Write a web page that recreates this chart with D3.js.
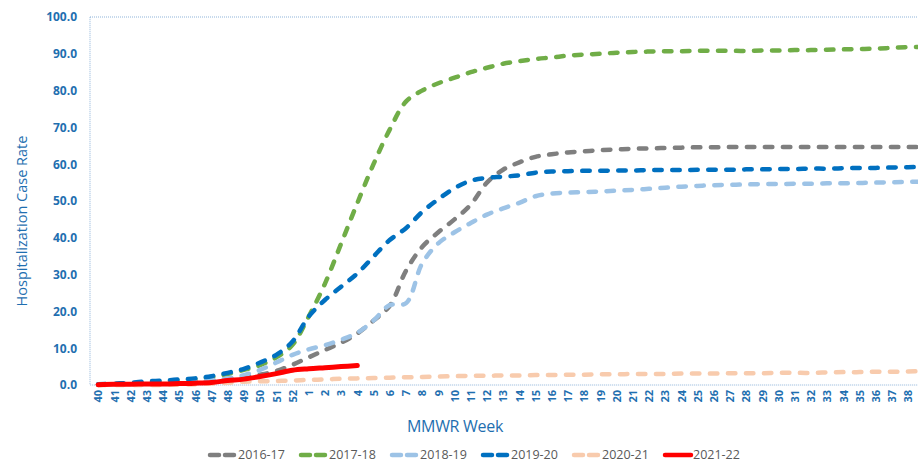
<!DOCTYPE html>
<html>
<head>
<meta charset="utf-8">
<script src="https://cdn.jsdelivr.net/npm/d3@7"></script>
<style>
  body { margin: 0; background: #fff; }
  svg { display: block; font-family: "Open Sans", sans-serif; }
</style>
</head>
<body>
<div id="chart"></div>
<script>
// MMWR weeks on the x axis (week 39 sits just past the right edge)
var weeks = ["40","41","42","43","44","45","46","47","48","49","50","51","52",
  "1","2","3","4","5","6","7","8","9","10","11","12","13","14","15","16","17","18","19",
  "20","21","22","23","24","25","26","27","28","29","30","31","32","33","34","35","36","37","38","39"];
var shownWeeks = weeks.slice(0, 51);

var yTicks = [0, 10, 20, 30, 40, 50, 60, 70, 80, 90, 100];

var s1617 = [0.1,0.2,0.3,0.4,0.5,0.7,0.9,1.2,1.6,2.1,2.8,3.8,5.5,
  7.5,9.5,11.5,14.0,17.5,21.5,31.0,37.5,41.5,45.0,49.0,55.0,58.5,
  60.5,62.0,62.7,63.2,63.5,63.8,64.0,64.2,64.3,64.4,64.5,64.6,64.6,
  64.7,64.7,64.7,64.7,64.7,64.7,64.7,64.7,64.7,64.7,64.7,64.7,64.7];

var s1718 = [0.1,0.2,0.4,0.7,1.0,1.3,1.6,2.1,3.0,4.1,5.4,7.5,10.9,
  18.6,27.5,38.4,49.4,60.0,69.4,77.0,80.0,82.0,83.5,85.0,86.2,87.3,
  88.0,88.6,89.0,89.5,89.8,90.0,90.3,90.5,90.6,90.7,90.7,90.8,90.8,
  90.8,90.8,90.9,90.9,91.0,91.0,91.1,91.2,91.3,91.4,91.6,91.8,91.9];

var s1819 = [0.1,0.2,0.3,0.4,0.6,0.8,1.0,1.3,1.8,2.7,4.1,6.1,8.2,
  9.7,10.8,12.3,14.2,17.5,21.7,22.2,33.0,38.5,41.5,44.0,46.3,48.0,
  49.5,51.3,52.0,52.3,52.4,52.6,52.8,53.0,53.3,53.6,53.9,54.1,54.3,
  54.4,54.5,54.6,54.6,54.7,54.7,54.8,54.8,54.9,55.0,55.1,55.2,55.3];

var s1920 = [0.2,0.4,0.6,1.0,1.2,1.5,1.8,2.4,3.3,4.4,6.1,8.2,11.8,
  18.6,23.1,26.7,30.3,34.9,39.4,42.6,47.0,50.5,53.5,55.5,56.3,56.6,
  57.0,57.7,58.0,58.1,58.2,58.2,58.3,58.3,58.4,58.4,58.4,58.5,58.5,
  58.5,58.6,58.6,58.7,58.7,58.8,58.8,58.9,59.0,59.0,59.1,59.2,59.3];

var s2021 = [0.0,0.0,0.0,0.0,0.0,0.1,0.2,0.4,0.6,0.9,1.0,1.1,1.2,
  1.4,1.5,1.7,1.8,1.9,2.0,2.1,2.2,2.3,2.4,2.5,2.5,2.6,
  2.6,2.7,2.7,2.8,2.8,2.9,2.9,3.0,3.0,3.0,3.1,3.1,3.1,
  3.2,3.2,3.2,3.3,3.3,3.3,3.4,3.5,3.5,3.6,3.6,3.7,3.8];

var s2122 = [0.1,0.2,0.2,0.3,0.3,0.4,0.5,0.7,1.2,1.6,2.3,3.1,4.0,4.4,4.7,5.0,5.3];

var seasons = ["2016-17", "2017-18", "2018-19", "2019-20", "2020-21", "2021-22"];
var seriesValues = [s1617, s1718, s1819, s1920, s2021, s2122];
var colors = ["#7f7f7f", "#70ad47", "#9dc3e6", "#0070c0", "#f8cbad", "#ff0000"];
var dashed = [true, true, true, true, true, false];

var W = 918, H = 462;
var margin = {top: 17, left: 90, bottom: 77};
var plotH = H - margin.top - margin.bottom;
var step = 16.2;
var plotW = step * weeks.length;
var blue = "#1f6fb0";

var svg = d3.select("#chart").append("svg")
    .attr("width", W)
    .attr("height", H);

var x = d3.scalePoint()
    .domain(weeks)
    .range([margin.left + step / 2, margin.left + plotW - step / 2]);

var y = d3.scaleLinear()
    .domain([0, 100])
    .range([margin.top + plotH, margin.top]);

// plot area border (dotted)
svg.append("rect")
    .attr("x", margin.left)
    .attr("y", margin.top)
    .attr("width", plotW)
    .attr("height", plotH)
    .attr("fill", "none")
    .attr("stroke", "#8fb4d9")
    .attr("stroke-width", 1)
    .attr("stroke-dasharray", "1,1");

// y axis labels
var yAxis = svg.append("g")
    .attr("transform", "translate(" + margin.left + ",0)")
    .call(d3.axisLeft(y).tickValues(yTicks).tickFormat(d3.format(".1f")).tickSize(0).tickPadding(13));
yAxis.select(".domain").remove();
yAxis.selectAll("text")
    .attr("fill", blue)
    .attr("font-size", 12)
    .attr("font-weight", "bold")
    .attr("font-family", "Open Sans");

// x axis labels, rotated
var xAxis = svg.append("g")
    .attr("transform", "translate(0," + (margin.top + plotH) + ")")
    .call(d3.axisBottom(x).tickValues(shownWeeks).tickSize(0));
xAxis.select(".domain").remove();
xAxis.selectAll("text")
    .attr("fill", blue)
    .attr("font-size", 11)
    .attr("font-weight", "bold")
    .attr("font-family", "Open Sans")
    .attr("text-anchor", "end")
    .attr("transform", "rotate(-90)")
    .attr("x", -5)
    .attr("y", 0)
    .attr("dy", "0.35em");

// axis titles
svg.append("text")
    .attr("x", 455)
    .attr("y", 432)
    .attr("text-anchor", "middle")
    .attr("fill", blue)
    .attr("font-size", 16)
    .attr("letter-spacing", "-0.3px")
    .text("MMWR Week");

svg.append("text")
    .attr("transform", "translate(27,221) rotate(-90)")
    .attr("text-anchor", "middle")
    .attr("fill", blue)
    .attr("font-size", 14.5)
    .text("Hospitalization Case Rate");

// lines
var line = d3.line()
    .x(function(d, i) { return x(weeks[i]); })
    .y(function(d) { return y(d); })
    .curve(d3.curveCatmullRom.alpha(0.5));

seriesValues.forEach(function(vals, k) {
  svg.append("path")
      .datum(vals)
      .attr("fill", "none")
      .attr("stroke", colors[k])
      .attr("stroke-width", dashed[k] ? 4.5 : 5)
      .attr("stroke-linecap", "round")
      .attr("stroke-dasharray", dashed[k] ? "7.5,10.5" : null)
      .attr("d", line);
});

// legend
var legend = svg.append("g")
    .selectAll("g")
    .data(seasons)
    .enter()
    .append("g")
    .attr("transform", function(d, i) { return "translate(" + (210 + i * 91) + ",455)"; });

legend.append("line")
    .attr("x1", 0)
    .attr("x2", 26)
    .attr("stroke", function(d, i) { return colors[i]; })
    .attr("stroke-width", 4.5)
    .attr("stroke-linecap", "round")
    .attr("stroke-dasharray", function(d, i) { return dashed[i] ? "9,6" : null; });

legend.append("text")
    .attr("x", 28)
    .attr("y", 4)
    .attr("fill", "#595959")
    .attr("font-size", 12.5)
    .text(function(d) { return d; });
</script>
</body>
</html>
